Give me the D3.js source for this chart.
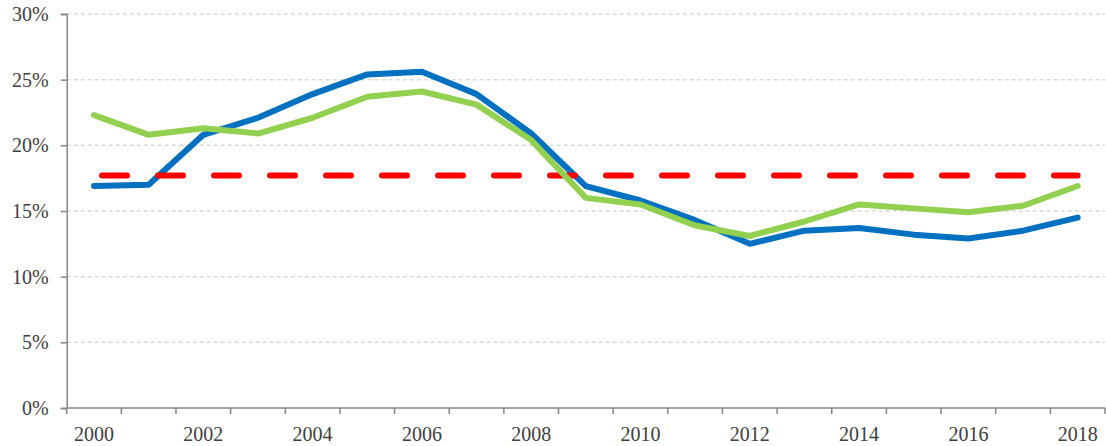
<!DOCTYPE html>
<html>
<head>
<meta charset="utf-8">
<script src="https://cdn.jsdelivr.net/npm/d3@7"></script>
<style>
  body { margin: 0; background: #fff; }
  svg { display: block; }
</style>
</head>
<body>
<svg id="chart" width="1106" height="446"></svg>
<script>
// data
const years = d3.range(2000, 2019);
const yearLabels = [2000, 2002, 2004, 2006, 2008, 2010, 2012, 2014, 2016, 2018];
const blueSeries = [16.9, 17.0, 20.8, 22.1, 23.9, 25.4, 25.6, 23.9, 20.9, 16.9, 15.8, 14.3, 12.5, 13.5, 13.7, 13.2, 12.9, 13.5, 14.5];
const greenSeries = [22.3, 20.8, 21.3, 20.9, 22.1, 23.7, 24.1, 23.1, 20.4, 16.0, 15.5, 13.9, 13.1, 14.2, 15.5, 15.2, 14.9, 15.4, 16.9];
const averageValue = 17.7;
const yTicks = [0, 5, 10, 15, 20, 25, 30];

const labelFont = "'Liberation Serif', Tinos, 'Times New Roman', 'DejaVu Serif', serif";
const svg = d3.select("#chart");
const plotLeft = 66.7, plotRight = 1105, plotTop = 14, plotBottom = 408;

const x = d3.scaleBand().domain(years).range([plotLeft, plotRight]).padding(0);
const y = d3.scaleLinear().domain([0, 30]).range([plotBottom, plotTop]);
const cx = d => x(d) + x.bandwidth() / 2;

// gridlines
svg.append("g")
    .selectAll("line")
    .data(yTicks.filter(d => d > 0))
    .enter().append("line")
    .attr("x1", plotLeft).attr("x2", plotRight)
    .attr("y1", d => y(d)).attr("y2", d => y(d))
    .attr("stroke", "#d9d9d9")
    .attr("stroke-width", 1.5)
    .attr("stroke-dasharray", "4,3");

// y axis
const yAxis = svg.append("g")
    .attr("transform", `translate(${plotLeft},0)`)
    .call(d3.axisLeft(y).tickValues(yTicks).tickSize(6).tickPadding(12).tickFormat(d => d + "%"));
yAxis.selectAll("line, path").attr("stroke", "#868686").attr("stroke-width", 1.5);
yAxis.attr("font-family", labelFont).attr("font-size", 20);
yAxis.selectAll("text").attr("fill", "#404040");

// x axis: ticks on band edges, labels every second year
const edges = years.map(d => x(d)).concat([plotRight]);
const xAxis = svg.append("g")
    .attr("font-family", labelFont).attr("font-size", 20);
xAxis.append("line")
    .attr("x1", plotLeft).attr("x2", plotRight)
    .attr("y1", plotBottom).attr("y2", plotBottom)
    .attr("stroke", "#868686").attr("stroke-width", 1.5);
xAxis.selectAll("line.tick")
    .data(edges)
    .enter().append("line")
    .attr("class", "tick")
    .attr("x1", d => d).attr("x2", d => d)
    .attr("y1", plotBottom).attr("y2", plotBottom + 6)
    .attr("stroke", "#868686").attr("stroke-width", 1.5);
xAxis.selectAll("text")
    .data(yearLabels)
    .enter().append("text")
    .attr("x", d => cx(d))
    .attr("y", 441)
    .attr("text-anchor", "middle")
    .attr("fill", "#404040")
    .text(d => d);

const line = d3.line().x((d, i) => cx(years[i])).y(d => y(d));

// blue series
svg.append("path")
    .datum(blueSeries)
    .attr("d", line)
    .attr("fill", "none")
    .attr("stroke", "#0070c0")
    .attr("stroke-width", 6)
    .attr("stroke-linejoin", "round")
    .attr("stroke-linecap", "round");

// red average
svg.append("line")
    .attr("x1", cx(years[0])).attr("x2", cx(years[years.length - 1]))
    .attr("y1", y(averageValue)).attr("y2", y(averageValue))
    .attr("stroke", "#ff0000")
    .attr("stroke-width", 6)
    .attr("stroke-linecap", "round")
    .attr("stroke-dasharray", "25,31")
    .attr("stroke-dashoffset", 48);

// green series
svg.append("path")
    .datum(greenSeries)
    .attr("d", line)
    .attr("fill", "none")
    .attr("stroke", "#92d050")
    .attr("stroke-width", 6)
    .attr("stroke-linejoin", "round")
    .attr("stroke-linecap", "round");
</script>
</body>
</html>
